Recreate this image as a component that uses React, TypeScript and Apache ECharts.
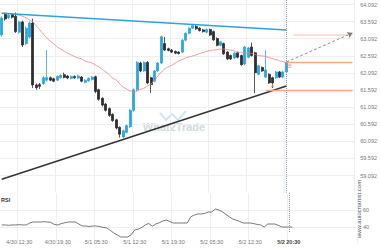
import React, { useEffect, useRef } from 'react';
import * as echarts from 'echarts';

// price axis labels end in .092; values are shifted by OFFSET for the axis scale
const OFFSET = 0.092;
const SLOTS = 102; // candle slots incl. projection area
const FIRST_LABEL = 5;
const LABEL_STEP = 11;
const xTickLabels = ['4/30 12:30', '4/30 19:30', '5/1 05:30', '5/1 12:30', '5/1 19:30', '5/2 05:30', '5/2 12:30', '5/2 20:30'];

const opens = [63.20, 63.81, 63.70, 63.80, 63.75, 63.28, 63.58, 62.95, 63.14, 63.55, 61.74, 61.75, 61.78, 61.88, 61.95, 61.92, 61.88, 61.95, 62.04, 62.00, 61.93, 61.99, 61.94, 61.97, 61.82, 61.86, 61.90, 61.98, 61.60, 61.35, 61.18, 61.05, 60.88, 60.72, 60.50, 60.22, 60.35, 60.52, 61.00, 61.60, 62.38, 62.15, 62.40, 61.95, 61.85, 62.15, 62.38, 62.95, 62.80, 62.76, 62.72, 62.70, 62.70, 63.05, 63.25, 63.40, 63.45, 63.40, 63.35, 63.28, 63.36, 63.30, 63.10, 62.90, 62.95, 62.70, 62.60, 62.53, 62.68, 62.60, 62.35, 62.55, 62.85, 62.68, 62.05, 62.25, 61.97, 62.05, 61.95, 61.95, 62.12, 61.97, 62.12];
const closes = [63.70, 63.67, 63.78, 63.72, 63.30, 63.58, 62.91, 63.40, 63.55, 61.74, 61.66, 61.70, 61.95, 61.96, 61.88, 61.85, 61.99, 62.02, 61.96, 61.94, 61.99, 61.95, 62.00, 61.85, 61.88, 61.93, 61.97, 61.55, 61.32, 61.15, 61.00, 60.85, 60.70, 60.48, 60.30, 60.40, 60.55, 61.00, 61.60, 62.40, 62.15, 62.40, 61.80, 61.75, 62.15, 62.38, 63.15, 62.76, 62.75, 62.70, 62.67, 62.66, 63.05, 63.25, 63.40, 63.47, 63.38, 63.33, 63.30, 63.36, 63.20, 63.06, 62.90, 63.00, 62.65, 62.50, 62.50, 62.67, 62.55, 62.33, 62.85, 62.82, 62.60, 62.10, 62.30, 62.15, 62.18, 61.80, 61.80, 62.12, 61.97, 62.12, 62.40];
const lows = [63.15, 63.62, 63.66, 63.68, 63.26, 63.24, 62.85, 62.90, 63.10, 61.65, 61.60, 61.62, 61.74, 61.84, 61.85, 61.82, 61.86, 61.92, 61.93, 61.91, 61.90, 61.92, 61.91, 61.82, 61.79, 61.83, 61.87, 61.50, 61.28, 61.11, 60.96, 60.81, 60.66, 60.44, 60.20, 60.18, 60.32, 60.48, 60.96, 61.56, 62.11, 62.12, 61.76, 61.50, 61.82, 62.12, 62.35, 62.73, 62.72, 62.67, 62.64, 62.63, 62.67, 63.02, 63.22, 63.37, 63.35, 63.30, 63.27, 63.25, 63.17, 63.03, 62.87, 62.87, 62.62, 62.47, 62.47, 62.50, 62.52, 62.30, 62.32, 62.52, 62.57, 61.50, 62.02, 62.12, 61.94, 61.77, 61.65, 61.92, 61.94, 61.94, 62.09];
const highs = [63.75, 63.85, 63.82, 63.84, 63.86, 63.62, 63.62, 63.45, 63.60, 63.68, 61.78, 61.80, 62.00, 62.76, 61.99, 61.95, 62.02, 62.06, 62.10, 62.03, 62.02, 62.02, 62.04, 62.00, 61.91, 61.96, 62.00, 62.01, 61.63, 61.38, 61.21, 61.08, 60.91, 60.75, 60.53, 60.44, 60.58, 61.04, 61.64, 62.44, 62.42, 62.43, 62.44, 61.98, 62.18, 62.41, 63.18, 63.14, 62.83, 62.79, 62.75, 62.73, 63.08, 63.28, 63.43, 63.52, 63.50, 63.43, 63.38, 63.39, 63.39, 63.33, 63.13, 63.03, 62.98, 62.73, 62.63, 62.70, 62.71, 62.63, 62.88, 62.85, 62.98, 62.71, 62.33, 62.28, 62.76, 62.08, 61.98, 62.15, 62.15, 62.15, 62.43];
const movingAvg = [63.84, 63.84, 63.83, 63.82, 63.80, 63.78, 63.75, 63.70, 63.64, 63.58, 63.46, 63.35, 63.23, 63.11, 63.02, 62.94, 62.85, 62.79, 62.73, 62.67, 62.62, 62.57, 62.53, 62.50, 62.44, 62.41, 62.38, 62.32, 62.27, 62.19, 62.12, 62.03, 61.94, 61.88, 61.77, 61.68, 61.62, 61.56, 61.53, 61.56, 61.61, 61.65, 61.71, 61.77, 61.88, 62.00, 62.12, 62.21, 62.27, 62.32, 62.38, 62.44, 62.48, 62.53, 62.56, 62.59, 62.62, 62.66, 62.69, 62.72, 62.75, 62.76, 62.77, 62.79, 62.79, 62.77, 62.76, 62.73, 62.70, 62.69, 62.67, 62.67, 62.66, 62.63, 62.60, 62.59, 62.57, 62.54, 62.51, 62.48, 62.45, 62.42, 62.38];
const rsiValues = [42.4, 42.4, 42.0, 42.4, 42.4, 42.8, 42.4, 42.4, 44.7, 45.9, 45.9, 45.9, 46.2, 45.9, 45.5, 43.0, 42.4, 44.0, 45.0, 45.9, 45.9, 45.9, 43.5, 41.2, 41.2, 40.5, 41.2, 41.2, 40.5, 39.5, 38.8, 36.0, 33.0, 30.6, 28.2, 28.2, 28.2, 31.0, 36.5, 37.5, 39.5, 42.4, 44.2, 41.0, 43.5, 45.0, 47.0, 48.2, 46.5, 44.7, 44.7, 44.7, 44.7, 44.7, 52.0, 54.1, 55.3, 55.3, 56.0, 57.6, 57.6, 61.2, 60.0, 58.0, 55.0, 52.0, 49.4, 48.0, 46.5, 44.7, 44.7, 44.7, 44.0, 43.0, 42.4, 40.0, 43.5, 43.5, 43.5, 42.0, 40.0, 40.0, 40.0, 40.0];

// trend lines & levels: [startIndex, startPrice, endIndex, endPrice]
const resistanceLine = [0, 63.84, 82, 63.35];
const supportLine = [0, 58.98, 82, 61.71];
const currentLevel = [82, 62.41, 101, 62.41];
const supportLevel = [76, 61.58, 101, 61.58];
const targetLevel = [84, 63.22, 101, 63.22];
const projection = [82, 62.41, 101, 63.26];
const nowIndex = 82;
const pointA = [78, 61.72];
const pointB = [83, 62.29];

const sh = (v: number) => +(v - OFFSET).toFixed(4);
const isLabel = (i: number) => i >= FIRST_LABEL && (i - FIRST_LABEL) % LABEL_STEP === 0 && (i - FIRST_LABEL) / LABEL_STEP < xTickLabels.length;

export default function App() {
  const ref = useRef<HTMLDivElement>(null);
  useEffect(() => {
    document.body.style.margin = '0';
    const chart = echarts.init(ref.current!, undefined, { renderer: 'svg' });
    const categories = Array.from({ length: SLOTS }, (_, i) => String(i));
    const candleData = opens.map((o, i) => [sh(o), sh(closes[i]), sh(lows[i]), sh(highs[i])]);
    const seg = (s: number[], style: any, endSymbol?: any) => [
      { coord: [s[0], sh(s[1])], lineStyle: style, symbol: 'none' },
      { coord: [s[2], sh(s[3])], symbol: endSymbol ? endSymbol : 'none', symbolSize: 5 },
    ];
    const font = 'Liberation Sans, Arial, sans-serif';
    const gridLine = { color: '#eceef1', width: 1 };
    const option: any = {
      animation: false,
      textStyle: { fontFamily: font },
      grid: [
        { left: 0, right: 23, top: 0, height: 192.6 },
        { left: 0, right: 23, top: 193, height: 51 },
      ],
      xAxis: [
        {
          type: 'category', gridIndex: 0, data: categories, boundaryGap: true,
          axisLine: { show: false }, axisTick: { show: false }, axisLabel: { show: false },
          splitLine: { show: true, interval: (i: number) => isLabel(i), lineStyle: gridLine },
        },
        {
          type: 'category', gridIndex: 1, data: categories, boundaryGap: true,
          axisLine: { show: false }, axisTick: { show: false },
          axisLabel: {
            show: true, interval: (i: number) => isLabel(i), margin: -5, fontSize: 5.5, color: '#777', fontFamily: font,
            formatter: (_v: string, i: number) => {
              const k = (i - FIRST_LABEL) / LABEL_STEP;
              const t = xTickLabels[k] || '';
              return k === xTickLabels.length - 1 ? `{b|${t}}` : t;
            },
            rich: { b: { fontSize: 5.5, fontWeight: 'bold', color: '#444', fontFamily: font } },
          },
          splitLine: { show: true, interval: (i: number) => isLabel(i), lineStyle: gridLine },
        },
      ],
      yAxis: [
        {
          type: 'value', gridIndex: 0, position: 'right', scale: true,
          min: 58.5, max: 64.132, interval: 0.5,
          axisLine: { show: false }, axisTick: { show: false },
          axisLabel: { showMinLabel: false, showMaxLabel: false, margin: 6, fontSize: 5.5, color: '#777', fontFamily: font,
            formatter: (v: number) => (v + OFFSET).toFixed(3) },
          splitLine: { show: true, showMinLine: false, showMaxLine: false, lineStyle: gridLine },
        },
        {
          type: 'value', gridIndex: 1, position: 'right',
          min: 20, max: 80, interval: 20,
          axisLine: { show: false }, axisTick: { show: false },
          axisLabel: { showMinLabel: false, showMaxLabel: false, margin: 6, fontSize: 5.5, color: '#777', fontFamily: font },
          splitLine: { show: true, showMinLine: false, showMaxLine: false, lineStyle: gridLine },
        },
      ],
      series: [
        {
          type: 'candlestick', xAxisIndex: 0, yAxisIndex: 0, data: candleData, barWidth: '72%',
          itemStyle: { color: '#2aa7e1', color0: '#2e2e2e', borderColor: '#2aa7e1', borderColor0: '#2e2e2e', borderWidth: 0.8 },
          markLine: {
            silent: true, symbol: ['none', 'none'], label: { show: false },
            data: [
              [{ coord: [nowIndex, 64.132], lineStyle: { color: '#8797a6', type: 'dotted', width: 1 } }, { coord: [nowIndex, 58.5] }],
              seg(resistanceLine, { color: '#2ba3dc', width: 1.5, type: 'solid' }),
              seg(supportLine, { color: '#333', width: 1.5, type: 'solid' }),
              seg(currentLevel, { color: '#f8a583', width: 1.3, type: 'solid' }),
              seg(supportLevel, { color: '#f8a583', width: 1.3, type: 'solid' }),
              seg(targetLevel, { color: '#fdd3c1', width: 1.5, type: 'solid' }),
              seg(projection, { color: '#777', width: 0.8, type: [3, 2] }, 'arrow'),
            ],
          },
          markPoint: {
            silent: true,
            data: [
              { coord: [pointA[0], sh(pointA[1])], symbol: 'rect', symbolSize: 1, itemStyle: { color: 'rgba(0,0,0,0)' },
                label: { show: true, position: 'inside', formatter: 'A', color: '#f4a07a', fontSize: 6 } },
              { coord: [pointB[0], sh(pointB[1])], symbol: 'rect', symbolSize: 1, itemStyle: { color: 'rgba(0,0,0,0)' },
                label: { show: true, position: 'inside', formatter: 'B', color: '#f4a07a', fontSize: 6 } },
            ],
          },
        },
        {
          type: 'line', xAxisIndex: 0, yAxisIndex: 0, data: movingAvg.map(sh), showSymbol: false, smooth: true,
          lineStyle: { color: '#f47b7b', width: 0.8 }, silent: true,
        },
        {
          type: 'line', xAxisIndex: 1, yAxisIndex: 1, data: rsiValues, showSymbol: false,
          lineStyle: { color: '#555', width: 0.8 }, silent: true,
          markLine: {
            silent: true, symbol: ['none', 'none'], label: { show: false },
            data: [[{ coord: [nowIndex, 80], lineStyle: { color: '#8797a6', type: 'dotted', width: 1 } }, { coord: [nowIndex, 33] }]],
          },
        },
      ],
      graphic: [
        { type: 'polyline', shape: { points: [[160, 113], [166, 120], [172, 114], [178, 120], [186, 111]] }, style: { stroke: '#cfe6f3', lineWidth: 2, fill: null }, silent: true },
        { type: 'text', x: 174, y: 127, style: { text: 'What2Trade', fill: '#d3dae0', font: 'bold 11px Liberation Sans, Arial, sans-serif', align: 'center', verticalAlign: 'middle' }, silent: true },
        { type: 'text', x: 1, y: 200, style: { text: 'RSI', fill: '#333', font: 'bold 5.5px Liberation Sans, Arial, sans-serif', verticalAlign: 'middle' }, silent: true },
        { type: 'text', x: 359, y: 209, rotation: Math.PI / 2, style: { text: 'www.autochartist.com', fill: '#555', font: '6px Liberation Sans, Arial, sans-serif', align: 'center', verticalAlign: 'middle' }, silent: true },
      ],
    };
    chart.setOption(option);
    return () => chart.dispose();
  }, []);
  return <div ref={ref} style={{ position: 'absolute', left: 0, top: 0, width: 380, height: 250, background: '#fff' }} />;
}
